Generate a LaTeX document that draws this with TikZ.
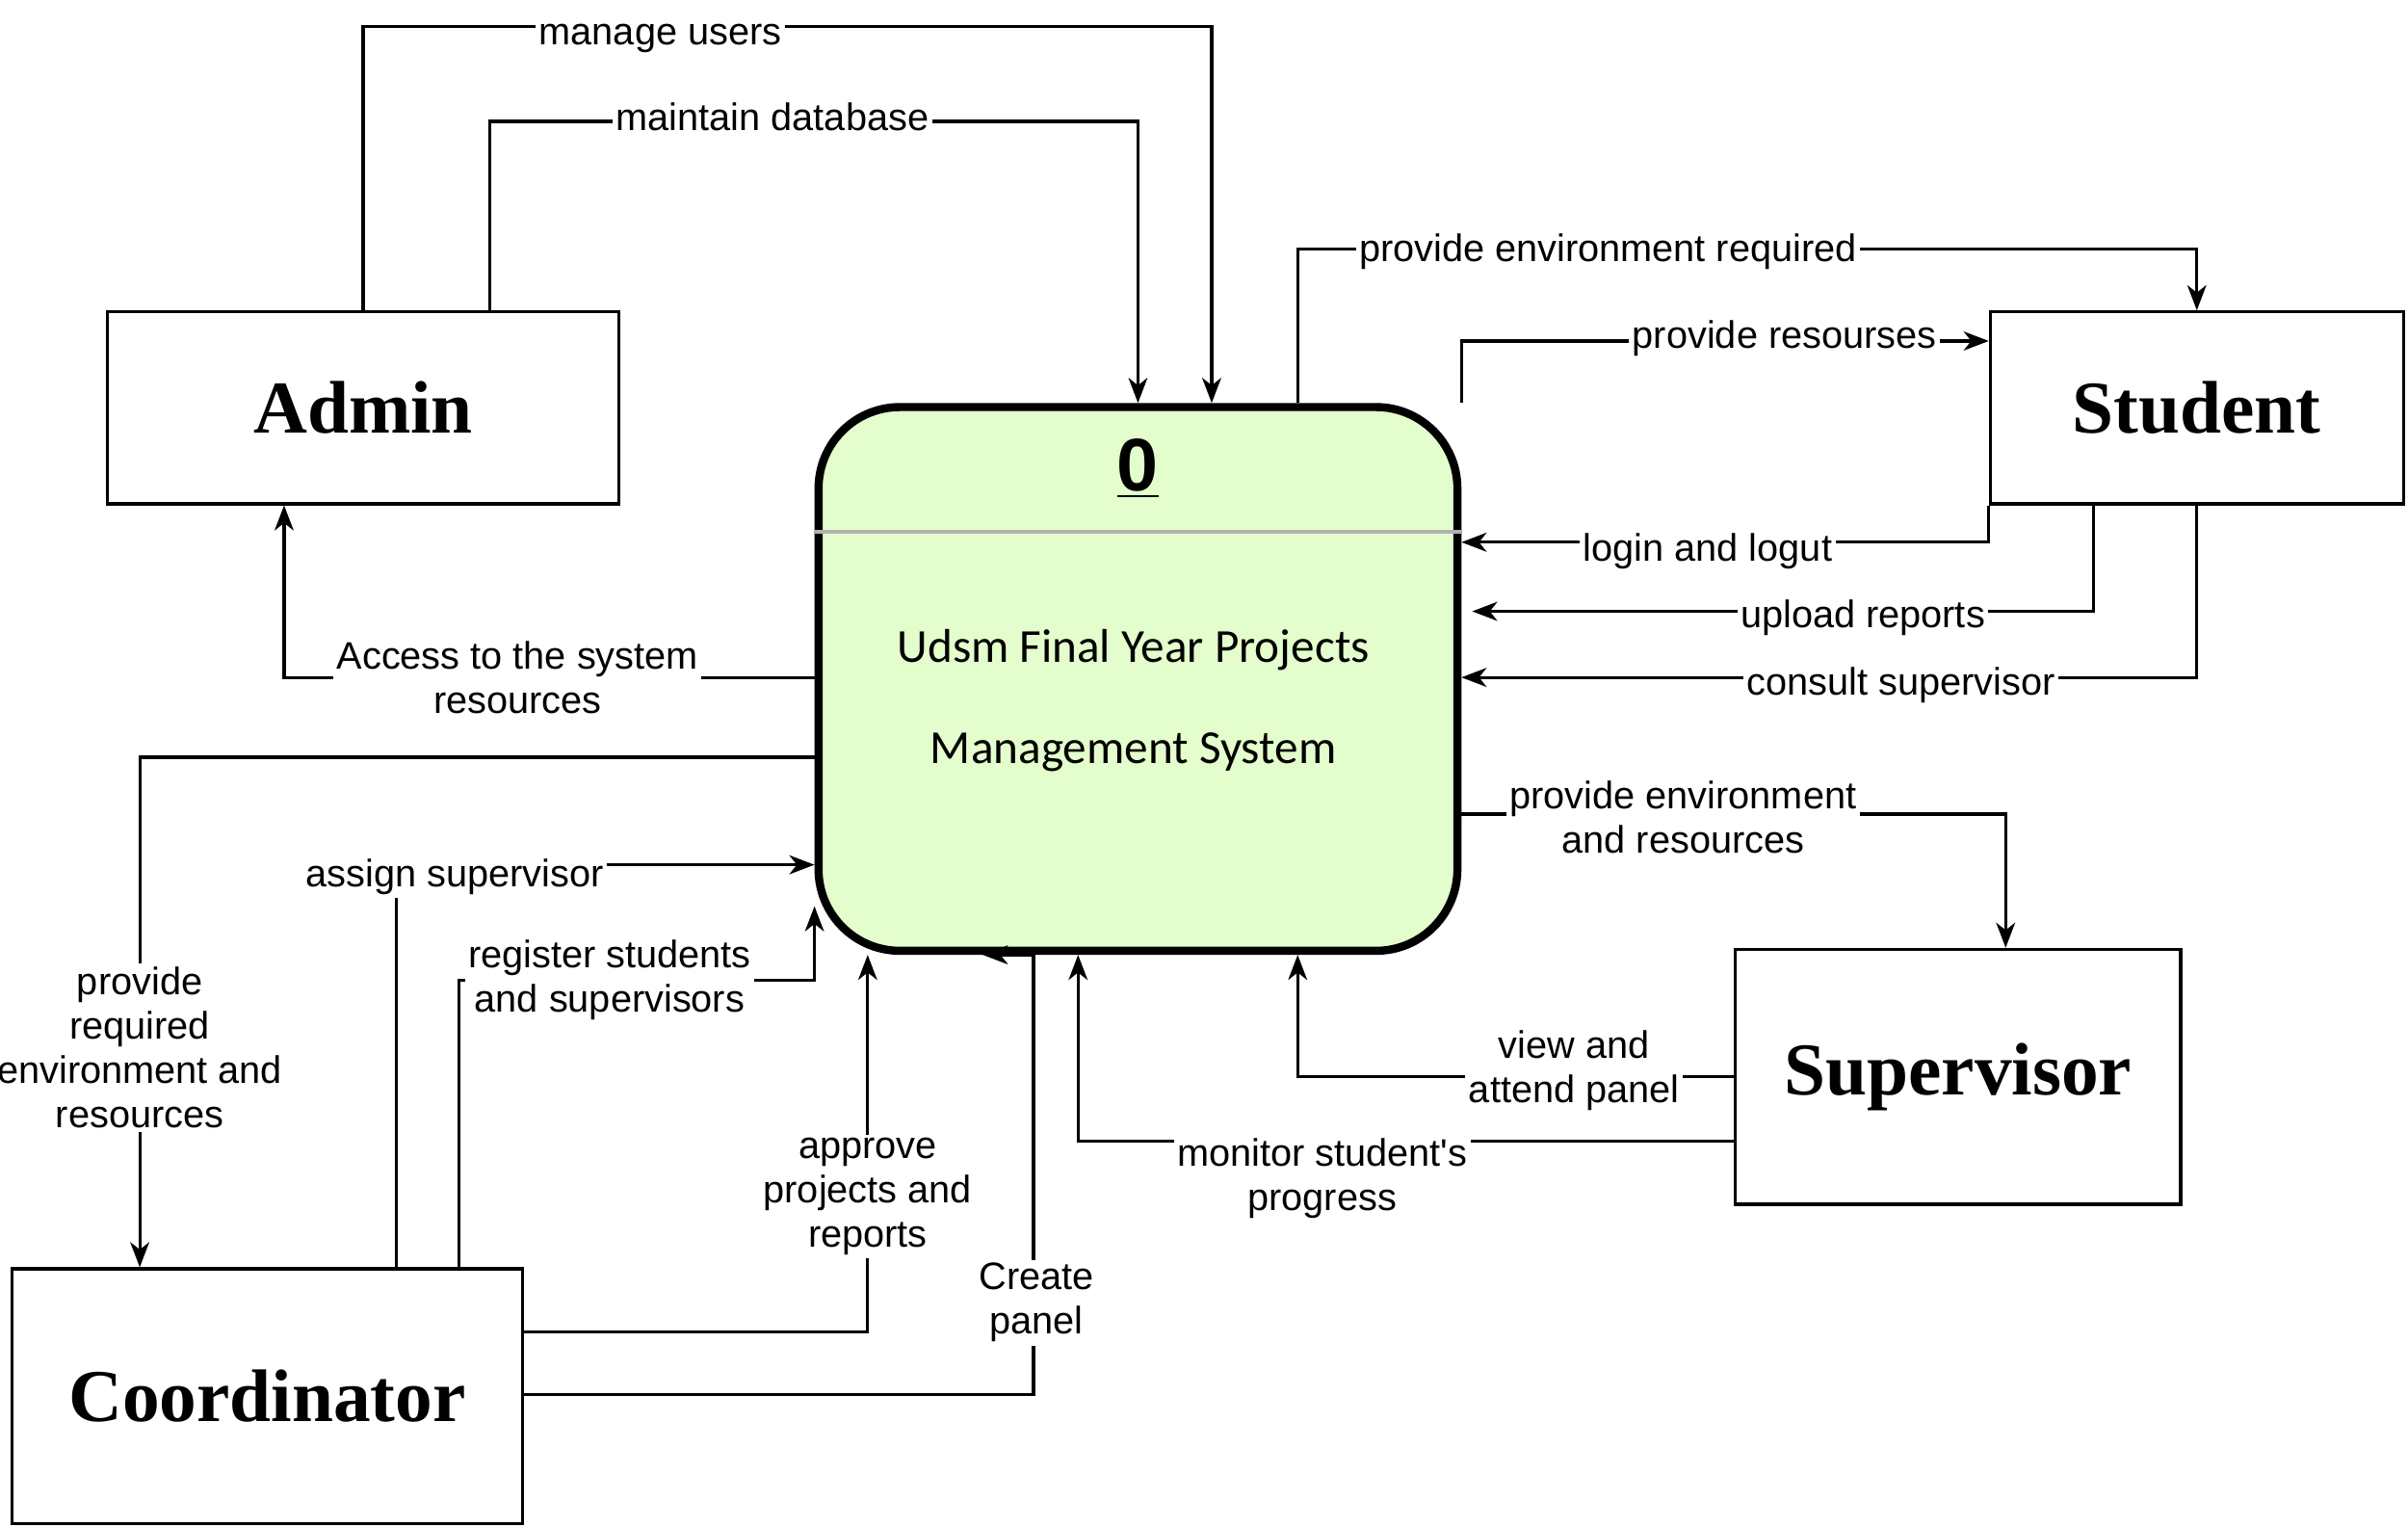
\documentclass[tikz,border=0pt]{standalone}
\usepackage{fontspec}
\setmainfont{Liberation Sans}
\newfontfamily\entityfont{Liberation Serif}
\newfontfamily\procfont{Carlito}
\usetikzlibrary{arrows.meta}
\newlength\dpx
\setlength\dpx{0.15944mm}
\definecolor{procgreen}{HTML}{E4FDCC}

\begin{document}
\begin{tikzpicture}[x=0.15944mm,y=-0.15944mm,
  entity/.style={draw,line width=0.9pt,font=\entityfont\bfseries\fontsize{22}{26}\selectfont},
  process/.style={draw,line width=2.4pt,rounded corners=53\dpx,fill=procgreen,minimum width=416\dpx,minimum height=354\dpx},
  flow/.style={-{Stealth[length=7.4pt,width=5.6pt,inset=2.2pt]},line width=0.9pt},
  lbl/.style={fill=white,inner sep=1pt,align=center,font=\fontsize{11.3}{13.1}\selectfont}]
\useasboundingbox (0,0) rectangle (1568,993.5);

\node (admin) at (236.5,265.5)[entity,minimum width=333\dpx,minimum height=125\dpx] {Admin};
\node (student) at (1430.5,265.5)[entity,minimum width=269\dpx,minimum height=125\dpx] {Student};
\node (superv) at (1275,701)[entity,minimum width=290\dpx,minimum height=166\dpx] {Supervisor};
\node (coordr) at (174,909)[entity,minimum width=332\dpx,minimum height=166\dpx] {Coordinator};
\node (proc) at (741,442)[process] {};
\draw [gray!60,line width=1.1pt] (proc.west |- 0,346) -- (proc.east |- 0,346);
\node (pnum) at (741,305)[font=\bfseries\fontsize{22}{26}\selectfont] {\underline{0}};
\node (ptitle) at (738,456)[align=center,font=\procfont\fontsize{14}{29.8}\selectfont] {Udsm Final Year Projects\\Management System};

% admin
\draw [flow] (admin.north) |- (430,17) node[lbl,yshift=-8\dpx] {manage users} -| (proc.north -| 789,0);
\draw [flow] (admin.north -| 319,0) |- (503,79) node[lbl,yshift=3\dpx] {maintain database} -| (proc.north -| 741,0);
\draw [flow] (proc.west |- 0,441) -- (337,441) node[lbl] {Access to the system\\resources} -| (admin.south -| 185,0);

% coordinator
\draw [flow] (proc.west |- 0,493) -| (91,682) node[lbl] {provide\\required\\environment and\\resources} -- (coordr.north -| 91,0);
\draw [flow] (coordr.north -| 258,0) |- (296,563) node[lbl,yshift=-8\dpx] {assign supervisor} -- (proc.west |- 0,563);
\draw [flow] (coordr.north -| 299,0) |- (397,638) node[lbl] {register students\\and supervisors} -| (proc.west |- 0,590);
\draw [flow] (coordr.east |- 0,867) -| (565,779) node[lbl] {approve\\projects and\\reports} -- (proc.south -| 565,0);
\draw [flow] (coordr.east |- 0,908) -| (673,848) node[lbl,xshift=2\dpx] {Create\\panel} -- (proc.south -| 673,0) -- (proc.south -| 640,0);

% supervisor
\draw [flow] (superv.west |- 0,743) -- (861,743) node[lbl,yshift=-24\dpx] {monitor student\textquotesingle s\\progress} -| (proc.south -| 702,0);
\draw [flow] (superv.west) -- (1025,701) node[lbl,yshift=4\dpx] {view and\\attend panel} -| (proc.south -| 845,0);
\draw [flow] (proc.east |- 0,530) -- (1096,530) node[lbl,yshift=-2\dpx] {provide environment\\and resources} -| (superv.north -| 1306,0);

% student
\draw [flow] (proc.north -| 845,0) |- (1047,162) node[lbl,yshift=-2\dpx] {provide environment required} -| (student.north);
\draw [flow] (proc.north east) |- (1162,222) node[lbl,yshift=2\dpx] {provide resourses} -- (student.west |- 0,222);
\draw [flow] (student.south west) |- (1112,353) node[lbl,yshift=-6\dpx] {login and logut} -- (proc.east |- 0,353);
\draw [flow] (student.south -| 1363,0) |- (1213,398) node[lbl,yshift=-4\dpx] {upload reports} -- ([xshift=7\dpx]proc.east |- 0,398);
\draw [flow] (student.south) |- (1238,441) node[lbl,yshift=-5\dpx] {consult supervisor} -- (proc.east |- 0,441);
\end{tikzpicture}
\end{document}
